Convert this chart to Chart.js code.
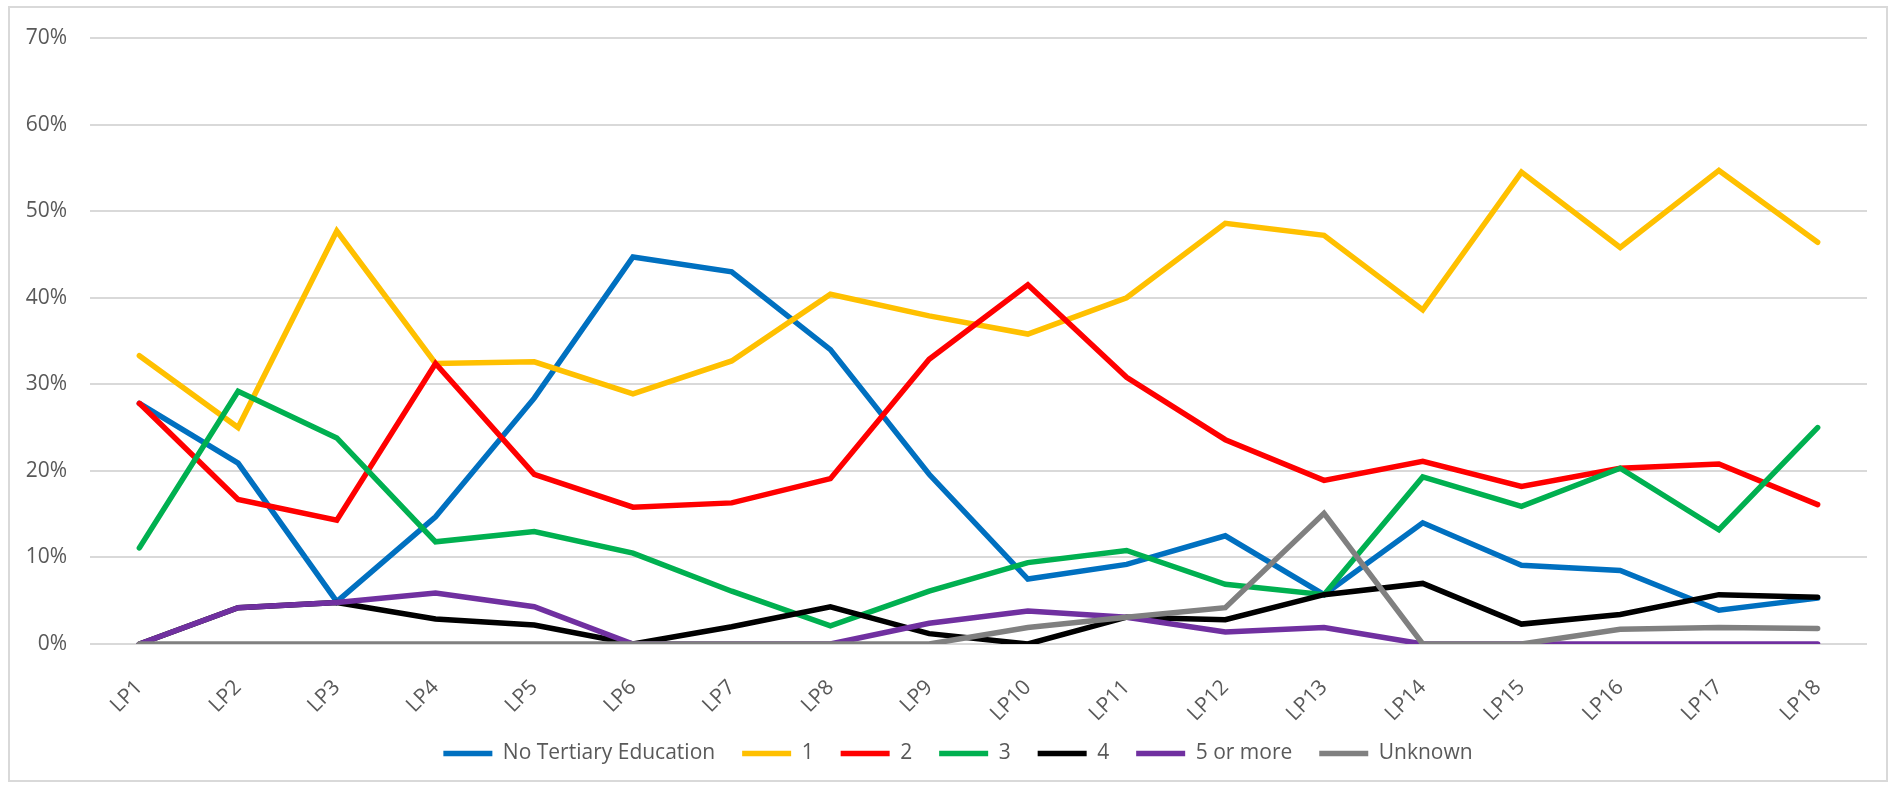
<!DOCTYPE html>
<html>
<head>
<meta charset="utf-8">
<script src="https://cdn.jsdelivr.net/npm/chart.js@4/dist/chart.umd.min.js"></script>
<style>
  html, body { margin: 0; padding: 0; background: #fff; }
  #frame { position: absolute; left: 8px; top: 6px; width: 1876px; height: 772px; border: 2px solid #d9d9d9; }
  #chart { display: block; }
</style>
</head>
<body>
<div id="frame"><canvas id="chart" width="1876" height="772"></canvas></div>
<script>
// categorie e serie (valori in %)
const labels = ['LP1','LP2','LP3','LP4','LP5','LP6','LP7','LP8','LP9','LP10','LP11','LP12','LP13','LP14','LP15','LP16','LP17','LP18'];
const yTicks = [0, 10, 20, 30, 40, 50, 60, 70];

const noTertiary = [27.8, 20.9, 4.9, 14.7, 28.4, 44.7, 43.0, 34.0, 19.6, 7.5, 9.2, 12.5, 5.7, 14.0, 9.1, 8.5, 3.9, 5.3];
const one        = [33.3, 25.0, 47.7, 32.4, 32.6, 28.9, 32.7, 40.4, 37.9, 35.8, 40.0, 48.6, 47.2, 38.6, 54.5, 45.8, 54.7, 46.4];
const two        = [27.8, 16.7, 14.3, 32.4, 19.6, 15.8, 16.3, 19.1, 32.9, 41.5, 30.8, 23.6, 18.9, 21.1, 18.2, 20.3, 20.8, 16.1];
const three      = [11.1, 29.2, 23.8, 11.8, 13.0, 10.5, 6.1, 2.1, 6.1, 9.4, 10.8, 6.9, 5.7, 19.3, 15.9, 20.3, 13.2, 25.0];
const four       = [0, 4.2, 4.8, 2.9, 2.2, 0, 2.0, 4.3, 1.2, 0, 3.1, 2.8, 5.7, 7.0, 2.3, 3.4, 5.7, 5.4];
const fiveOrMore = [0, 4.2, 4.8, 5.9, 4.3, 0, 0, 0, 2.4, 3.8, 3.1, 1.4, 1.9, 0, 0, 0, 0, 0];
const unknown    = [0, 0, 0, 0, 0, 0, 0, 0, 0, 1.9, 3.1, 4.2, 15.1, 0, 0, 1.7, 1.9, 1.8];

const seriesNames = ['No Tertiary Education', '1', '2', '3', '4', '5 or more', 'Unknown'];
const seriesData = [noTertiary, one, two, three, four, fiveOrMore, unknown];
const seriesColors = ['#0070C0', '#FFC000', '#FF0000', '#00B050', '#000000', '#7030A0', '#808080'];

const TXT = '#595959', GRID = '#d9d9d9';
Chart.defaults.font.family = "'Open Sans', sans-serif";
Chart.defaults.font.size = 21;
Chart.defaults.color = TXT;

// come in Excel, l'ultima serie sta sopra: order più basso = disegnata per ultima
const datasets = seriesNames.map((name, i) => ({
  label: name,
  data: seriesData[i],
  borderColor: seriesColors[i],
  backgroundColor: seriesColors[i],
  borderWidth: 5.5,
  borderCapStyle: 'round',
  pointRadius: 0,
  tension: 0,
  order: seriesNames.length - 1 - i,
}));

// sposta la legenda per centrarla come nell'originale
const legendShift = {
  id: 'legendShift',
  afterLayout(chart) {
    const lg = chart.legend;
    lg.left += 12; lg.right += 12;
    lg.top -= 6; lg.bottom -= 6;
  },
};

new Chart(document.getElementById('chart'), {
  type: 'line',
  data: { labels, datasets },
  plugins: [legendShift],
  options: {
    responsive: false,
    animation: false,
    layout: { padding: { left: 15, right: 19, top: 30, bottom: 0 } },
    plugins: {
      tooltip: { enabled: false },
      legend: {
        position: 'bottom',
        labels: {
          usePointStyle: true, pointStyle: 'line', pointStyleWidth: 49,
          padding: 27, color: TXT,
          sort: (a, b) => a.datasetIndex - b.datasetIndex,
        },
      },
    },
    scales: {
      x: {
        offset: true,
        grid: { display: false },
        border: { display: false },
        ticks: { color: TXT, minRotation: 45, maxRotation: 45, padding: 23, autoSkip: false },
        // altezza fissa dell'asse e niente spazio extra per le etichette ruotate
        afterFit: (s) => { s.height = 78; s.paddingLeft = 0; s.paddingRight = 0; },
      },
      y: {
        min: 0, max: 70,
        grid: { color: GRID, lineWidth: 2, drawTicks: false },
        border: { display: false },
        afterBuildTicks: (s) => { s.ticks = yTicks.map((v) => ({ value: v })); },
        afterFit: (s) => { s.width = 65; s.paddingTop = 0; s.paddingBottom = 0; },
        ticks: { color: TXT, padding: 23, callback: (v) => v + '%' },
      },
    },
  },
});
</script>
</body>
</html>
